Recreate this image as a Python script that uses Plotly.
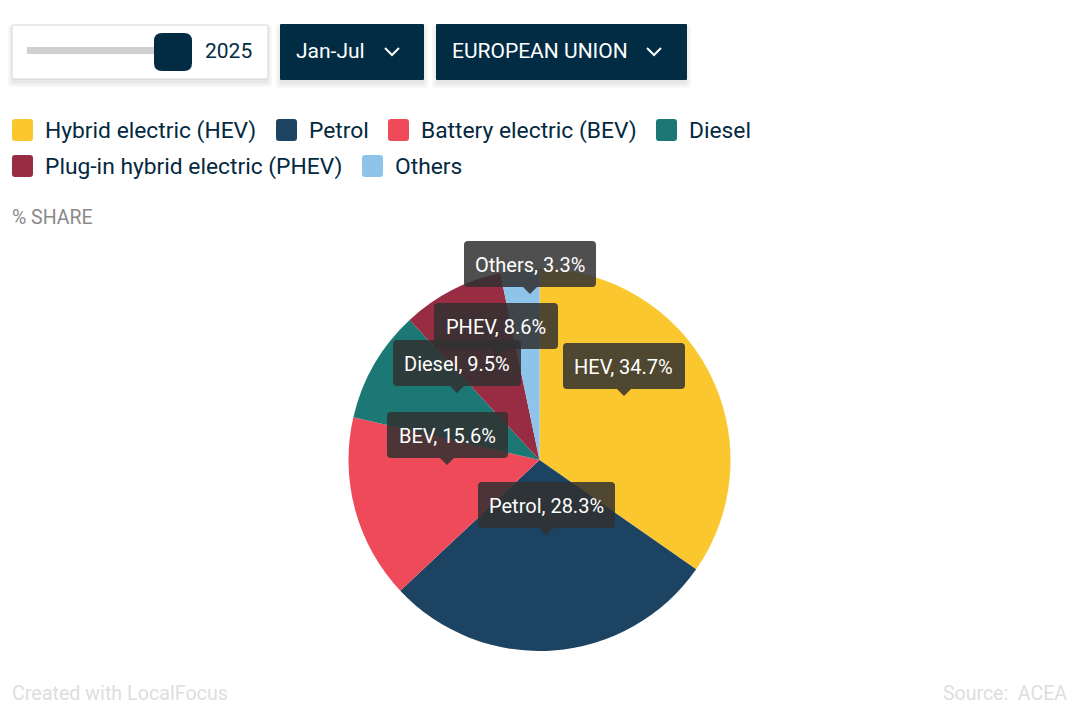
import plotly.graph_objects as go

W, H = 1080, 716

# Data
categories = ['Hybrid electric (HEV)', 'Petrol', 'Battery electric (BEV)', 'Diesel',
              'Plug-in hybrid electric (PHEV)', 'Others']
short_names = ['HEV', 'Petrol', 'BEV', 'Diesel', 'PHEV', 'Others']
shares = [34.7, 28.3, 15.6, 9.5, 8.6, 3.3]
colors = ['#FBC72F', '#1C4462', '#EF4A5A', '#1C7875', '#982C43', '#8FC4EA']

NAVY = '#022C43'
FONT = 'Roboto'

# Pixel helpers, y counted from the top of the page
def px(x):
    return x / W

def py(y):
    return 1 - y / H

def rounded(x0, y0, x1, y1, r, tip=None):
    # rounded box, optionally with a small pointer under the bottom edge
    pointer = ''
    if tip is not None:
        pointer = f'L {px(tip + 7)} {py(y1)} L {px(tip)} {py(y1 + 7)} L {px(tip - 7)} {py(y1)} '
    return (f'M {px(x0 + r)} {py(y0)} L {px(x1 - r)} {py(y0)} Q {px(x1)} {py(y0)} {px(x1)} {py(y0 + r)} '
            f'L {px(x1)} {py(y1 - r)} Q {px(x1)} {py(y1)} {px(x1 - r)} {py(y1)} '
            f'{pointer}L {px(x0 + r)} {py(y1)} Q {px(x0)} {py(y1)} {px(x0)} {py(y1 - r)} '
            f'L {px(x0)} {py(y0 + r)} Q {px(x0)} {py(y0)} {px(x0 + r)} {py(y0)} Z')

shapes = []
annotations = []

def add_shape(path, fill, line=None):
    shapes.append(dict(type='path', xref='paper', yref='paper', path=path, fillcolor=fill,
                       line=dict(width=1 if line else 0, color=line or 'rgba(0,0,0,0)'), layer='above'))

def add_text(x, y, text, size, color, anchor='left'):
    annotations.append(dict(x=px(x), y=py(y), xref='paper', yref='paper', text=text, showarrow=False,
                            xanchor=anchor, yanchor='middle', borderpad=0,
                            font=dict(family=FONT, size=size, color=color)))

def add_shadow(x0, y0, x1, y1):
    for grow in [4, 2, 0]:
        add_shape(rounded(x0 - grow, y0 - grow + 4, x1 + grow, y1 + grow + 4, 3), 'rgba(0,0,0,0.03)')

def add_chevron(x, y):
    shapes.append(dict(type='path', xref='paper', yref='paper', layer='above',
                       path=f'M {px(x - 7)} {py(y - 3)} L {px(x)} {py(y + 4)} L {px(x + 7)} {py(y - 3)}',
                       line=dict(color='white', width=2)))

# Year slider
add_shadow(12, 25, 268, 79)
add_shape(rounded(12, 25, 268, 79, 1), 'white', '#d4d4d4')
add_shape(rounded(27, 47, 160, 54, 0), '#d0d0d0')
add_shape(rounded(154, 33, 192, 71, 8), NAVY)
add_text(228, 51, '2025', 21, NAVY, 'center')

# Dropdowns
for x0, x1, label, chevron_x in [(280, 424, 'Jan-Jul', 392), (436, 687, 'EUROPEAN UNION', 654)]:
    add_shadow(x0, 24, x1, 80)
    add_shape(rounded(x0, 24, x1, 80, 1), NAVY)
    add_text(x0 + 15, 51, label, 21, 'white')
    add_chevron(chevron_x, 51)

# Legend
legend_x = [12, 276, 388, 656, 12, 362]
legend_y = [130, 130, 130, 130, 166, 166]
for name, color, x, y in zip(categories, colors, legend_x, legend_y):
    add_shape(rounded(x, y - 11, x + 21, y + 11, 3), color)
    add_text(x + 32, y, name, 22.8, '#04293F')

add_text(11, 217, '% SHARE', 19.5, '#8a8a8a')

# Value labels on the pie, drawn in the order the page stacks them
tip_boxes = {
    'Others': (464, 241, 596, 287, 530),
    'HEV': (563, 343, 685, 389, 624),
    'Petrol': (478, 482, 615, 528, 546),
    'BEV': (387, 412, 508, 458, 447),
    'PHEV': (434, 303, 558, 349, 497),
    'Diesel': (393, 340, 521, 386, 457),
}
for name, (x0, y0, x1, y1, tip) in tip_boxes.items():
    share = shares[short_names.index(name)]
    add_shape(rounded(x0, y0, x1, y1, 4, tip), 'rgba(48,48,48,0.85)')
    add_text((x0 + x1) / 2, (y0 + y1) / 2 + 1, f'{name}, {share}%', 20, 'white', 'center')

# Footer
add_text(11, 693, 'Created with LocalFocus', 19.7, '#dedede')
add_text(1068, 693, 'Source:  ACEA', 19.5, '#dedede', 'right')

fig = go.Figure(go.Pie(
    labels=categories,
    values=shares,
    marker=dict(colors=colors, line=dict(width=0)),
    sort=False,
    direction='clockwise',
    rotation=0,
    textinfo='none',
    hoverinfo='label+percent',
    domain=dict(x=[px(348.5), px(730.5)], y=[py(651), py(269)]),
))

fig.update_layout(
    width=W,
    height=H,
    margin=dict(l=0, r=0, t=0, b=0),
    paper_bgcolor='white',
    showlegend=False,
    shapes=shapes,
    annotations=annotations,
)

# the browser's default body margin would push everything 8px in
fig.write_html("out.html", config=dict(displayModeBar=False),
               post_script="document.body.style.margin = '0';")
